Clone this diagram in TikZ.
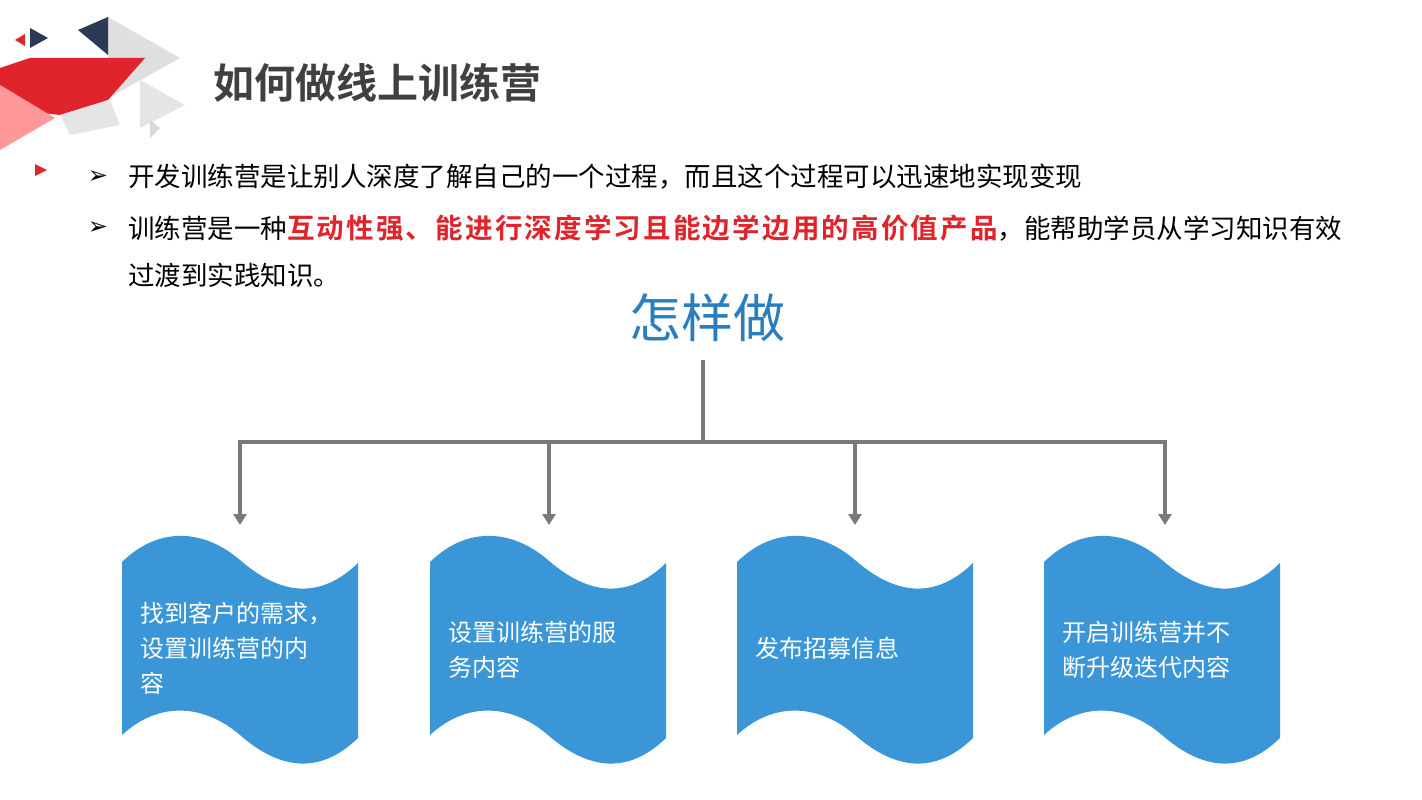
\documentclass[tikz,border=0pt]{standalone}
\usepackage{fontspec}
\setmainfont{Noto Sans CJK SC}
\newfontfamily\cjkb{Noto Sans CJK SC Bold}
\newfontfamily\cjkbs[LetterSpace=8]{Noto Sans CJK SC Bold}
\newfontfamily\djv{DejaVu Sans}
\usetikzlibrary{arrows.meta}
\definecolor{wblue}{HTML}{3A96D6}
\definecolor{hblue}{HTML}{2A7DBE}
\definecolor{tgray}{HTML}{404040}
\definecolor{lred}{HTML}{E0242C}
\definecolor{navy}{HTML}{2B3A55}
\tikzset{
  conn/.style={draw=gray!95!black,line width=3.5pt},
  arr/.style={conn,-{Triangle[length=11pt,width=13pt]}},
  btxt/.style={anchor=west,inner sep=0pt,font=\fontsize{26.5}{30}\selectfont,text=black},
  wtxt/.style={anchor=north west,inner sep=0pt,align=left,text=white,font=\fontsize{24}{35}\selectfont}
}
\begin{document}
\begin{tikzpicture}[x=1pt,y=-1pt]
\useasboundingbox (0,0) rectangle (1422,800);
% decoration
\fill[gray!25] (108,17) -- (180,58) -- (108,98) -- cycle;
\fill[gray!20] (140,80) -- (185,105) -- (140,128) -- cycle;
\fill[gray!30] (150,120) -- (160,128) -- (150,138) -- cycle;
\fill[navy] (78,30) -- (108,17) -- (108,55) -- cycle;
\fill[navy] (30,28) -- (48,38) -- (30,48) -- cycle;
\fill[lred] (15,40) -- (25,34) -- (25,46) -- cycle;
\fill[lred] (0,68) -- (30,58) -- (145,58) -- (108,100) -- (60,115) -- (0,108) -- cycle;
\fill[red!40] (0,85) -- (55,118) -- (0,150) -- cycle;
\fill[gray!20] (60,115) -- (110,100) -- (120,125) -- (70,135) -- cycle;
\fill[lred] (35,164) -- (47,170) -- (35,176) -- cycle;
% title
\node[anchor=west,inner sep=0pt,text=tgray,font=\cjkb\fontsize{41}{44}\selectfont] (title) at (213,83) {如何做线上训练营};
% bullets
\node[anchor=center,font=\djv\fontsize{24}{26}\selectfont] (b1) at (98,177) {➢};
\node[anchor=center,font=\djv\fontsize{24}{26}\selectfont] (b2) at (98,228) {➢};
\node[btxt] (t1) at (128,177) {开发训练营是让别人深度了解自己的一个过程，而且这个过程可以迅速地实现变现};
\node[btxt] (t2) at (128,228) {训练营是一种{\cjkbs\fontsize{27.5}{30}\selectfont\color{lred}互动性强、能进行深度学习且能边学边用的高价值产品}，能帮助学员从学习知识有效};
\node[btxt] (t3) at (128,275) {过渡到实践知识。};
% tree
\node[text=hblue,font=\fontsize{52}{56}\selectfont] (how) at (707,318) {怎样做};
\coordinate (top) at (703,360);
\coordinate (mid) at (703,442);
\coordinate (l) at (240,442);
\coordinate (r) at (1165,442);
\draw[conn] (top) -- (mid);
\draw[conn,line cap=rect] (l) -- (r);
\foreach \x/\n in {240/a1,549/a2,855/a3,1165/a4}{
  \coordinate (\n) at (\x,525);
  \draw[arr] (\x,442) -- (\n);
}
% waves
\foreach \dx in {0,308,615,922}{
\fill[wblue,shift={(\dx,0)}] (122,562) .. controls (160,525) and (205,530) .. (240,560) .. controls (280,595) and (320,600) .. (358,563)
  -- (358,738) .. controls (320,775) and (280,770) .. (240,735) .. controls (205,705) and (160,700) .. (122,735) -- cycle;
}
\node[wtxt] (w1) at (140,602) {找到客户的需求，\\设置训练营的内\\容};
\node[wtxt] (w2) at (448,621) {设置训练营的服\\务内容};
\node[wtxt] (w3) at (755,637) {发布招募信息};
\node[wtxt] (w4) at (1062,621) {开启训练营并不\\断升级迭代内容};
\end{tikzpicture}
\end{document}
